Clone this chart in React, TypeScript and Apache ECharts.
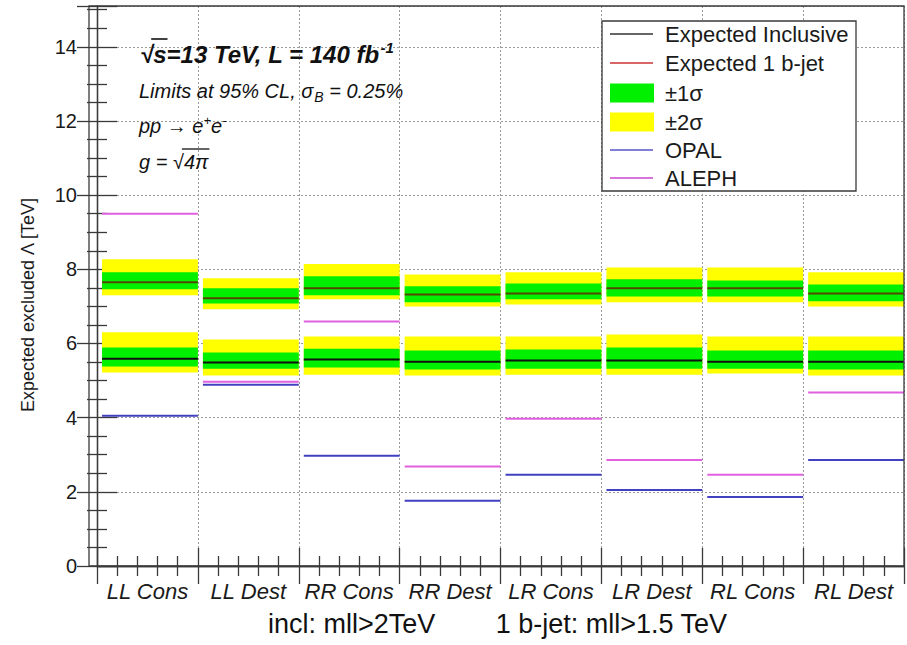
import React, { useEffect, useRef } from 'react';
import * as echarts from 'echarts';

// ---- data ----
const categories = ['LL Cons', 'LL Dest', 'RR Cons', 'RR Dest', 'LR Cons', 'LR Dest', 'RL Cons', 'RL Dest'];

// Expected Inclusive (black, lower group)
const inclMedian = [5.59, 5.49, 5.57, 5.51, 5.54, 5.54, 5.51, 5.51];
const inclSig1Lo = [5.38, 5.32, 5.35, 5.30, 5.32, 5.32, 5.32, 5.30];
const inclSig1Hi = [5.89, 5.76, 5.86, 5.81, 5.84, 5.89, 5.81, 5.81];
const inclSig2Lo = [5.22, 5.14, 5.16, 5.14, 5.16, 5.16, 5.19, 5.14];
const inclSig2Hi = [6.30, 6.11, 6.19, 6.19, 6.19, 6.24, 6.19, 6.19];

// Expected 1 b-jet (red, upper group)
const bjetMedian = [7.65, 7.22, 7.49, 7.32, 7.35, 7.49, 7.49, 7.35];
const bjetSig1Lo = [7.46, 7.08, 7.30, 7.11, 7.19, 7.27, 7.27, 7.14];
const bjetSig1Hi = [7.92, 7.49, 7.81, 7.54, 7.62, 7.73, 7.70, 7.59];
const bjetSig2Lo = [7.30, 6.92, 7.19, 7.00, 7.05, 7.11, 7.11, 7.00];
const bjetSig2Hi = [8.27, 7.76, 8.14, 7.86, 7.92, 8.05, 8.05, 7.92];

// LEP limits
const opal = [4.05, 4.89, 2.97, 1.76, 2.46, 2.05, 1.86, 2.86];
const aleph = [9.5, 4.97, 6.59, 2.68, 3.97, 2.86, 2.46, 4.68];

const yTickLabels = [0, 2, 4, 6, 8, 10, 12, 14];

const legendItems = [
  { kind: 'line', label: 'Expected Inclusive', color: '#333333' },
  { kind: 'line', label: 'Expected 1 b-jet', color: '#cc3333' },
  { kind: 'box', label: '±1σ', color: '#00f000' },
  { kind: 'box', label: '±2σ', color: '#ffff00' },
  { kind: 'line', label: 'OPAL', color: '#5555cc' },
  { kind: 'line', label: 'ALEPH', color: '#cc44cc' },
];

const captionParts = ['incl: mll>2TeV', '1 b-jet: mll>1.5 TeV'];

const FONT = '"Liberation Sans", Arial, Helvetica, sans-serif';
const BAND_OFF = 0.05;

function measure(text: string, font: string): number {
  const c = document.createElement('canvas').getContext('2d');
  if (!c) return text.length * 10;
  c.font = font;
  return c.measureText(text).width;
}

function bandSeries(lo: number[], hi: number[], color: string) {
  return {
    type: 'custom',
    xAxisIndex: 0,
    yAxisIndex: 0,
    encode: { x: [0, 1], y: [2, 3] },
    data: categories.map((_, i) => [i + BAND_OFF, i + 1, lo[i], hi[i]]),
    renderItem: (_p: any, api: any) => {
      const a = api.coord([api.value(0), api.value(3)]);
      const b = api.coord([api.value(1), api.value(2)]);
      return {
        type: 'rect',
        shape: { x: a[0], y: a[1], width: b[0] - a[0], height: b[1] - a[1] },
        style: { fill: color },
      };
    },
  };
}

function lineSeries(vals: number[], color: string, width: number) {
  return {
    type: 'custom',
    xAxisIndex: 0,
    yAxisIndex: 0,
    encode: { x: [0, 1], y: 2 },
    data: categories.map((_, i) => [i + BAND_OFF, i + 1, vals[i]]),
    renderItem: (_p: any, api: any) => {
      const a = api.coord([api.value(0), api.value(2)]);
      const b = api.coord([api.value(1), api.value(2)]);
      return {
        type: 'line',
        shape: { x1: a[0], y1: a[1], x2: b[0], y2: b[1] },
        style: { stroke: color, lineWidth: width },
      };
    },
  };
}

export default function App() {
  const ref = useRef<HTMLDivElement>(null);

  useEffect(() => {
    if (!ref.current) return;
    const chart = echarts.init(ref.current, null, { renderer: 'svg' });

    const axisColor = '#3a3a3a';
    const valueAxisCommon = {
      type: 'value',
      min: 0,
      max: 8,
      interval: 1,
      axisLine: { show: true, lineStyle: { color: axisColor, width: 1.3 } },
      axisTick: { show: true, inside: true, length: 18, lineStyle: { color: axisColor, width: 1.3 } },
      minorTick: { show: true, splitNumber: 5, length: 10, lineStyle: { color: axisColor, width: 1.3 } },
      axisLabel: { show: false },
    };
    const yAxisCommon = {
      type: 'value',
      min: 0,
      max: 15.1,
      interval: 2,
      axisLine: { show: true, lineStyle: { color: axisColor, width: 1.3 } },
      axisTick: { show: true, inside: true, length: 20, lineStyle: { color: axisColor, width: 1.3 } },
      minorTick: { show: true, splitNumber: 4, length: 10, lineStyle: { color: axisColor, width: 1.3 } },
    };

    // top-left annotation layout
    const tx = 140;
    const l1Font = `italic bold 24px ${FONT}`;
    const sqrtW1 = measure('√', l1Font);
    const sW = measure('s', l1Font);
    const l4Font = `italic 20px ${FONT}`;
    const gPre = measure('g = ', l4Font);
    const sqrtW4 = measure('√', l4Font);
    const fourPiW = measure('4π', l4Font);

    const legendX = 602;
    const legendRows = [34, 63, 93, 122, 150, 178];
    const legendGraphics: any[] = [
      {
        type: 'rect',
        shape: { x: legendX, y: 21, width: 254, height: 170 },
        style: { fill: '#ffffff', stroke: axisColor, lineWidth: 1.3 },
        z: 10,
      },
    ];
    legendItems.forEach((it, i) => {
      const y = legendRows[i];
      if (it.kind === 'line') {
        legendGraphics.push({
          type: 'line',
          shape: { x1: 610, y1: y, x2: 653, y2: y },
          style: { stroke: it.color, lineWidth: 1.5 },
          z: 11,
        });
      } else {
        legendGraphics.push({
          type: 'rect',
          shape: { x: 610, y: y - 9.5, width: 44, height: 19 },
          style: { fill: it.color },
          z: 11,
        });
      }
      legendGraphics.push({
        type: 'text',
        x: 665,
        y: y + 0.5,
        style: {
          text: it.label,
          font: `22px ${FONT}`,
          fill: '#1a1a1a',
          textAlign: 'left',
          textVerticalAlign: 'middle',
        },
        z: 11,
      });
    });

    const option: any = {
      animation: false,
      backgroundColor: '#ffffff',
      grid: { left: 97, right: 3, top: 6, bottom: 79, containLabel: false },
      xAxis: [
        {
          ...valueAxisCommon,
          position: 'bottom',
          splitLine: { show: true, lineStyle: { color: '#9a9a9a', type: [2, 2], width: 1 } },
        },
        {
          ...valueAxisCommon,
          position: 'top',
          splitLine: { show: false },
        },
        {
          type: 'category',
          data: categories,
          position: 'bottom',
          boundaryGap: true,
          axisLine: { show: false },
          axisTick: { show: false },
          splitLine: { show: false },
          axisLabel: {
            show: true,
            interval: 0,
            margin: 14,
            fontSize: 22,
            fontStyle: 'italic',
            fontFamily: FONT,
            color: '#1a1a1a',
          },
        },
      ],
      yAxis: [
        {
          ...yAxisCommon,
          position: 'left',
          offset: 8,
          splitLine: { show: true, lineStyle: { color: '#9a9a9a', type: [2, 2], width: 1 } },
          axisLabel: {
            show: true,
            margin: 12,
            fontSize: 20,
            fontFamily: FONT,
            color: '#1a1a1a',
            showMaxLabel: false,
            formatter: (v: number) => (yTickLabels.includes(v) ? String(v) : ''),
          },
        },
        {
          ...yAxisCommon,
          position: 'right',
          splitLine: { show: false },
          axisLabel: { show: false },
        },
      ],
      series: [
        bandSeries(inclSig2Lo, inclSig2Hi, '#ffff00'),
        bandSeries(bjetSig2Lo, bjetSig2Hi, '#ffff00'),
        bandSeries(inclSig1Lo, inclSig1Hi, '#00f000'),
        bandSeries(bjetSig1Lo, bjetSig1Hi, '#00f000'),
        lineSeries(inclMedian, '#111111', 2),
        lineSeries(bjetMedian, 'rgba(120,0,0,0.7)', 2),
        lineSeries(aleph, '#e060e0', 2),
        lineSeries(opal, '#4040c0', 2),
      ],
      graphic: [
        // frame extension to the left of x = 0
        {
          type: 'rect',
          shape: { x: 89, y: 6, width: 815, height: 560 },
          style: { fill: 'none', stroke: axisColor, lineWidth: 1.3 },
          z: 5,
          silent: true,
        },
        // y axis title
        {
          type: 'text',
          x: 28,
          y: 305,
          rotation: Math.PI / 2,
          style: {
            text: 'Expected excluded Λ [TeV]',
            font: `18px ${FONT}`,
            fill: '#1a1a1a',
            textAlign: 'center',
            textVerticalAlign: 'middle',
          },
        },
        // annotation
        {
          type: 'text',
          x: tx,
          y: 54,
          style: {
            text: '√s=13 TeV, L = 140 fb{sup|-1}',
            font: l1Font,
            fill: '#111111',
            textAlign: 'left',
            textVerticalAlign: 'middle',
            rich: {
              sup: { fontSize: 15, fontWeight: 'bold', fontStyle: 'italic', fontFamily: FONT, fill: '#111111', padding: [0, 0, 14, 1] },
            },
          },
          z: 6,
        },
        {
          type: 'line',
          shape: { x1: tx + sqrtW1 - 2, y1: 39, x2: tx + sqrtW1 + sW + 1, y2: 39 },
          style: { stroke: '#111111', lineWidth: 1.6 },
          z: 6,
        },
        {
          type: 'text',
          x: tx - 1,
          y: 91,
          style: {
            text: 'Limits at 95% CL, σ{sub|B} = 0.25%',
            font: `italic 20px ${FONT}`,
            fill: '#111111',
            textAlign: 'left',
            textVerticalAlign: 'middle',
            rich: {
              sub: { fontSize: 14, fontStyle: 'italic', fontFamily: FONT, fill: '#111111', padding: [12, 0, 0, 1] },
            },
          },
          z: 6,
        },
        {
          type: 'text',
          x: tx - 1,
          y: 126,
          style: {
            text: 'pp → e{sup|+}e{sup|-}',
            font: `italic 20px ${FONT}`,
            fill: '#111111',
            textAlign: 'left',
            textVerticalAlign: 'middle',
            rich: {
              sup: { fontSize: 13, fontStyle: 'italic', fontFamily: FONT, fill: '#111111', padding: [0, 0, 12, 0] },
            },
          },
          z: 6,
        },
        {
          type: 'text',
          x: tx - 1,
          y: 162,
          style: {
            text: 'g = √4π',
            font: l4Font,
            fill: '#111111',
            textAlign: 'left',
            textVerticalAlign: 'middle',
          },
          z: 6,
        },
        {
          type: 'line',
          shape: {
            x1: tx - 1 + gPre + sqrtW4 - 2,
            y1: 149,
            x2: tx - 1 + gPre + sqrtW4 + fourPiW + 1,
            y2: 149,
          },
          style: { stroke: '#111111', lineWidth: 1.3 },
          z: 6,
        },
        ...legendGraphics,
        // bottom caption
        {
          type: 'text',
          x: 268,
          y: 624,
          style: {
            text: captionParts[0],
            font: `27px ${FONT}`,
            fill: '#111111',
            textAlign: 'left',
            textVerticalAlign: 'middle',
          },
        },
        {
          type: 'text',
          x: 727,
          y: 624,
          style: {
            text: captionParts[1],
            font: `27px ${FONT}`,
            fill: '#111111',
            textAlign: 'right',
            textVerticalAlign: 'middle',
          },
        },
      ],
    };

    chart.setOption(option);
    return () => chart.dispose();
  }, []);

  return (
    <div
      ref={ref}
      style={{ position: 'absolute', left: 0, top: 0, width: 907, height: 645, background: '#ffffff' }}
    />
  );
}
